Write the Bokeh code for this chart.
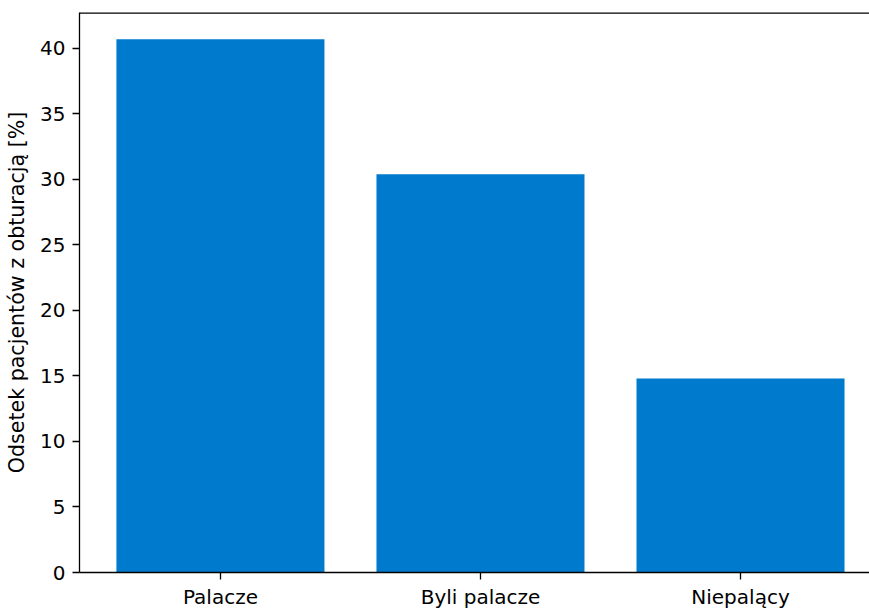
from bokeh.plotting import figure
from bokeh.models import Range1d, FixedTicker, ColumnDataSource, Span
from bokeh.embed import file_html
from bokeh.resources import INLINE

categories = ["Palacze", "Byli palacze", "Niepalący"]
values = [40.7, 30.4, 14.8]
positions = [0, 1, 2]
y_ticks = [0, 5, 10, 15, 20, 25, 30, 35, 40]
y_label = "Odsetek pacjentów z obturacją [%]"

FONT = "DejaVu Sans"
FS = "20px"

src = ColumnDataSource(dict(x=positions, top=values))
y_top = max(values) * 1.05

p = figure(width=869, height=611, output_backend="svg", toolbar_location=None,
           x_range=Range1d(-0.542, 2.496), y_range=Range1d(0, y_top),
           min_border_left=79, min_border_top=12, min_border_right=0, min_border_bottom=0,
           outline_line_color="white", outline_line_width=3)
p.vbar(x="x", top="top", width=0.8, source=src, fill_color="#007acc", line_color=None)

p.xgrid.visible = False
p.ygrid.visible = False

p.xaxis.ticker = FixedTicker(ticks=positions)
p.xaxis.major_label_overrides = {pos: c for pos, c in zip(positions, categories)}
p.yaxis.ticker = FixedTicker(ticks=y_ticks)
p.yaxis.axis_label = y_label

for ax in (p.xaxis[0], p.yaxis[0]):
    ax.axis_line_color = "black"
    ax.axis_line_width = 1.3
    ax.major_tick_line_color = "black"
    ax.major_tick_line_width = 1.3
    ax.major_tick_out = 7
    ax.major_tick_in = 0
    ax.minor_tick_line_color = None
    ax.major_label_text_font = FONT
    ax.major_label_text_font_size = FS
    ax.major_label_text_color = "black"

p.xaxis.major_label_standoff = 5
p.yaxis.major_label_standoff = 7
p.yaxis.axis_label_text_font = FONT
p.yaxis.axis_label_text_font_size = "20.6px"
p.yaxis.axis_label_text_font_style = "normal"
p.yaxis.axis_label_text_color = "black"
p.yaxis.axis_label_standoff = 8

p.add_layout(Span(location=y_top, dimension="width", line_color="black", line_width=2.6))

open("out.html", "w").write(file_html(p, INLINE))
